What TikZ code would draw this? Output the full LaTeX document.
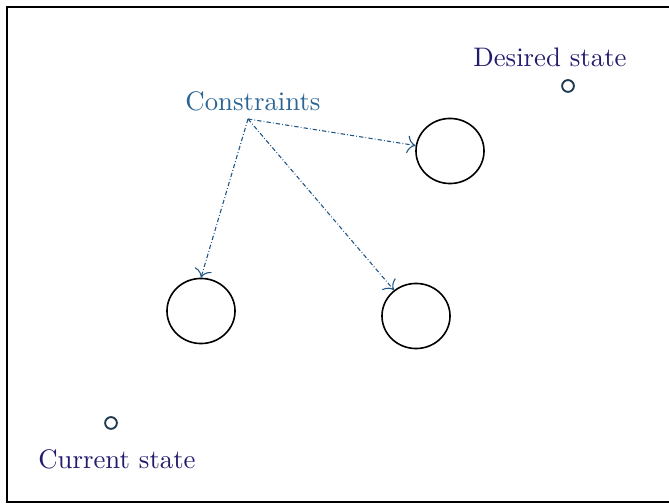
\documentclass[tikz,border=0pt]{standalone}
\usepackage{xcolor}
\definecolor{cFrame}{HTML}{000000}
\definecolor{cState}{HTML}{231C6E}
\definecolor{cCons}{HTML}{2A6595}
\definecolor{cArrow}{HTML}{1F5585}
\definecolor{cDot}{HTML}{1E3A50}
\usepackage{tikz}
\usetikzlibrary{positioning,arrows.meta,shapes.geometric}
\tikzset{
  node-obst/.style={draw=black,semithick,ellipse,minimum width=25.4pt,minimum height=24.3pt,inner sep=0pt},
  node-point/.style={draw=cDot,line width=0.7pt,circle,minimum size=4.4pt,inner sep=0pt},
  label-state/.style={text=cState,font=\normalsize},
  label-cons/.style={text=cCons,font=\normalsize},
  arrow-cons/.style={-{To[length=1.1mm]},draw=cArrow,line width=0.4pt,
    dash pattern=on 1.6pt off 0.8pt on 0.3pt off 0.8pt},
}

\begin{document}
\begin{tikzpicture}[x=0.01312cm,y=-0.01312cm]
  \useasboundingbox (0,0) rectangle (669,504);
  \draw[semithick] (7,7) rectangle (680,502);
  % obstacles
  \node[node-obst] (obsA) at (450,151) {};
  \node[node-obst] (obsB) at (201,311) {};
  \node[node-obst] (obsC) at (416,316) {};
  % start and goal
  \node[node-point] (cur) at (111,423) {};
  \node[label-state] (curlbl) at (117,459) {Current state};
  \node[node-point] (des) at (568,86) {};
  \node[label-state] (deslbl) at (550,57) {Desired state};
  % constraints
  \node[label-cons] (cons) at (253,101) {Constraints};
  \coordinate (src) at (248,119);
  \draw[arrow-cons] (src) -- (obsA);
  \draw[arrow-cons] (src) -- (obsB.north);
  \draw[arrow-cons] (src) -- (obsC);
\end{tikzpicture}
\end{document}
